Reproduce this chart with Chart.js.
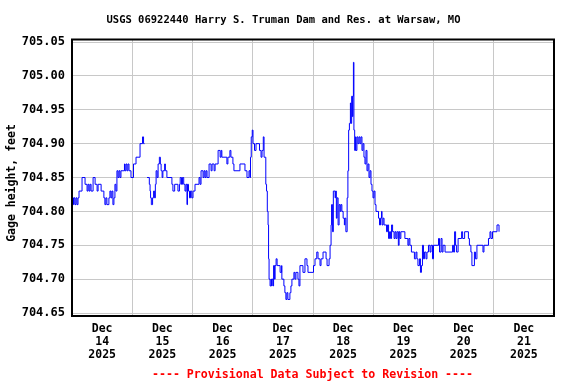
<!DOCTYPE html>
<html><head><meta charset="utf-8">
<script src="https://cdn.jsdelivr.net/npm/chart.js@4/dist/chart.umd.min.js"></script>
<style>html,body{margin:0;padding:0;background:#fff}canvas{display:block}</style>
</head><body>
<canvas id="c" width="576" height="384"></canvas>
<script>
const titleText = 'USGS 06922440 Harry S. Truman Dam and Res. at Warsaw, MO';
const yAxisTitle = 'Gage height, feet';
const footerText = '---- Provisional Data Subject to Revision ----';
const monthLabel = 'Dec';
const yearLabel = '2025';
const dayLabels = ['14','15','16','17','18','19','20','21'];
const yTickValues = [704.65,704.70,704.75,704.80,704.85,704.90,704.95,705.00,705.05];

// hours since Dec 14 2025 00:00
const hours = [
0,0.2,0.6,0.8,1.2,1.6,2.0,2.4,2.8,4.0,
5.2,6.0,6.4,6.8,7.2,7.6,8.4,9.2,10.0,10.4,
11.6,12.7,13.1,13.5,13.9,14.7,15.1,15.5,15.9,16.3,
16.7,17.1,17.5,17.9,18.3,18.7,19.1,19.5,20.9,21.1,
21.5,21.9,22.3,22.7,23.5,24.5,25.5,27.1,28.1,28.5,
28.9,29.4,
29.9,30.8,31.1,31.3,31.6,32.1,32.5,32.9,33.2,33.5,
33.9,34.3,34.8,35.2,35.5,35.9,36.2,36.9,37.2,37.8,
39.8,40.2,40.9,42.2,42.8,43.1,43.6,44.0,44.5,45.0,
45.4,45.8,46.0,46.4,46.8,47.2,47.7,48.2,49.0,50.6,
51.0,51.4,52.2,52.6,53.0,53.4,53.8,54.6,55.4,55.8,
56.6,57.0,58.2,59.0,59.4,59.7,61.7,62.1,62.9,63.3,
64.1,64.5,66.9,68.9,69.7,70.5,70.9,71.1,71.4,71.8,
72.1,72.7,73.3,74.7,75.3,75.7,76.2,76.5,77.2,77.5,
77.8,78.1,78.3,78.5,78.9,79.3,79.5,79.7,80.1,80.3,
80.7,80.9,81.3,81.7,82.9,83.5,83.6,84.4,84.8,85.2,
85.6,86.0,86.8,87.2,87.6,88.4,88.8,89.2,90.0,90.4,
90.8,92.0,92.8,93.6,94.0,96.2,96.8,97.5,98.0,98.8,
99.2,100.0,101.2,101.6,102.4,102.8,103.2,103.4,103.8,104.1,
104.8,105.0,105.3,105.6,106.0,106.4,106.8,107.1,107.5,108.0,
108.5,108.7,109.1,109.6,109.9,110.2,110.5,110.9,111.1,111.4,
111.7,111.9,112.1,112.3,112.6,112.9,113.1,113.5,113.9,114.3,
114.7,115.1,115.5,115.9,116.3,116.7,117.1,117.5,117.9,118.3,
118.7,119.1,119.5,119.9,120.3,120.7,121.1,122.1,122.5,122.9,
123.3,123.5,123.9,124.3,125.3,125.7,126.1,126.5,126.9,127.3,
127.7,128.3,128.7,129.1,129.5,130.0,130.3,130.6,131.0,132.6,
133.8,134.2,134.6,135.2,136.4,137.0,137.4,137.8,138.4,138.8,
139.2,139.6,140.0,140.4,141.0,141.4,142.0,142.6,143.0,143.6,
144.0,146.0,146.4,147.0,147.4,147.8,148.6,151.6,152.0,152.4,
152.8,153.2,153.8,155.2,155.6,156.4,157.9,158.3,158.9,159.3,
160.3,160.7,161.3,163.7,164.1,165.9,166.5,166.9,167.5,169.3,
170.1
];
const gage = [
704.80,704.82,704.81,704.82,704.81,704.82,704.81,704.82,704.83,704.85,
704.84,704.83,704.84,704.83,704.84,704.83,704.85,704.84,704.83,704.84,
704.83,704.82,704.81,704.82,704.81,704.82,704.83,704.82,704.83,704.81,
704.82,704.84,704.83,704.86,704.85,704.86,704.85,704.86,704.87,704.86,
704.87,704.86,704.87,704.86,704.85,704.87,704.88,704.90,704.91,704.90,
704.90,null,
704.85,704.84,704.83,704.82,704.81,704.82,704.83,704.82,704.84,704.86,
704.85,704.87,704.88,704.87,704.86,704.85,704.86,704.87,704.86,704.85,
704.84,704.83,704.84,704.83,704.84,704.85,704.84,704.85,704.84,704.83,
704.84,704.81,704.84,704.83,704.82,704.83,704.82,704.83,704.84,704.85,
704.84,704.86,704.85,704.86,704.85,704.86,704.85,704.87,704.86,704.87,
704.86,704.87,704.89,704.88,704.89,704.88,704.87,704.88,704.89,704.88,
704.87,704.86,704.87,704.86,704.85,704.86,704.85,704.88,704.91,704.92,
704.90,704.89,704.90,704.89,704.88,704.89,704.91,704.88,704.84,704.83,
704.80,704.78,704.73,704.70,704.69,704.70,704.69,704.70,704.69,704.72,
704.70,704.72,704.73,704.72,704.71,704.72,704.70,704.69,704.68,704.67,
704.68,704.67,704.68,704.69,704.70,704.71,704.70,704.71,704.70,704.69,
704.72,704.71,704.73,704.72,704.71,704.72,704.73,704.74,704.73,704.72,
704.73,704.74,704.73,704.72,704.73,704.75,704.78,704.81,704.77,704.83,
704.82,704.83,704.79,704.82,704.78,704.81,704.80,704.81,704.80,704.79,
704.78,704.79,704.77,704.82,704.86,704.92,704.93,704.96,704.93,704.97,
704.94,704.97,705.02,704.92,704.89,704.91,704.89,704.91,704.90,704.91,
704.90,704.91,704.89,704.90,704.88,704.87,704.89,704.86,704.87,704.85,
704.86,704.84,704.83,704.82,704.83,704.81,704.80,704.79,704.78,704.79,
704.80,704.78,704.79,704.78,704.77,704.78,704.76,704.77,704.76,704.78,
704.77,704.76,704.77,704.76,704.77,704.75,704.77,704.76,704.77,704.76,
704.75,704.76,704.75,704.74,704.73,704.74,704.73,704.72,704.73,704.71,
704.72,704.75,704.73,704.74,704.73,704.74,704.75,704.74,704.75,704.73,
704.75,704.76,704.74,704.76,704.74,704.75,704.74,704.75,704.74,704.77,
704.75,704.74,704.76,704.77,704.76,704.77,704.76,704.75,704.74,704.72,
704.74,704.73,704.75,704.74,704.75,704.76,704.77,704.76,704.77,704.78,
704.77
];

const FONT = '"DejaVu Sans Mono", monospace';

const decorPlugin = {
  id: 'decor',
  afterDraw(chart) {
    const ctx = chart.ctx, a = chart.chartArea;
    ctx.save();
    ctx.strokeStyle = '#000';
    ctx.lineWidth = 2;
    ctx.strokeRect(a.left, a.top - 0.5, a.right - a.left, a.bottom - a.top + 0.5);
    ctx.fillStyle = '#000';
    ctx.textAlign = 'center';
    ctx.textBaseline = 'middle';
    ctx.font = 'bold 10.5px ' + FONT;
    ctx.fillText(titleText, 283.5, 20);
    ctx.fillStyle = '#ff0000';
    ctx.font = 'bold 11.6px ' + FONT;
    ctx.fillText(footerText, 312.5, 375);
    ctx.fillStyle = '#000';
    ctx.font = 'bold 11.5px ' + FONT;
    ctx.translate(12, 183);
    ctx.rotate(-Math.PI / 2);
    ctx.fillText(yAxisTitle, 0, 0);
    ctx.restore();
  }
};

new Chart(document.getElementById('c'), {
  type: 'line',
  data: {
    datasets: [{
      data: hours.map((h, i) => ({ x: h, y: gage[i] })),
      borderColor: '#0000ff',
      borderWidth: 1,
      pointRadius: 0,
      stepped: true,
      spanGaps: false,
      fill: false
    }]
  },
  options: {
    responsive: false,
    animation: false,
    devicePixelRatio: 1,
    layout: { padding: { top: 40, right: 22, left: 0, bottom: 0 } },
    plugins: { legend: { display: false }, tooltip: { enabled: false }, title: { display: false } },
    scales: {
      x: {
        type: 'linear',
        min: 0,
        max: dayLabels.length * 24,
        afterBuildTicks(scale) {
          const t = [];
          for (let v = 0; v <= dayLabels.length * 24; v += 12) t.push({ value: v });
          scale.ticks = t;
        },
        afterFit(scale) { scale.height = 68; },
        grid: {
          drawTicks: false,
          color: (c) => (c.tick && c.tick.value % 24 === 0) ? '#c8c8c8' : 'rgba(0,0,0,0)',
          lineWidth: 1
        },
        border: { display: false },
        ticks: {
          autoSkip: false,
          maxRotation: 0,
          minRotation: 0,
          padding: 7,
          color: '#000',
          font: { family: FONT, size: 11.5, weight: 'bold', lineHeight: 1.13 },
          callback: (v) => {
            if (v % 24 === 12) {
              const d = Math.floor(v / 24);
              return d < dayLabels.length ? [monthLabel, dayLabels[d], yearLabel] : '';
            }
            return '';
          }
        }
      },
      y: {
        type: 'linear',
        min: 704.6456,
        max: 705.053,
        afterBuildTicks(scale) { scale.ticks = yTickValues.map(v => ({ value: v })); },
        afterFit(scale) { scale.width = 72; },
        grid: { drawTicks: false, color: '#c8c8c8', lineWidth: 1 },
        border: { display: false },
        ticks: {
          padding: 7,
          color: '#000',
          font: { family: FONT, size: 12, weight: 'bold' },
          callback: (v) => Number(v).toFixed(2)
        }
      }
    }
  },
  plugins: [decorPlugin]
});
</script>
</body></html>
